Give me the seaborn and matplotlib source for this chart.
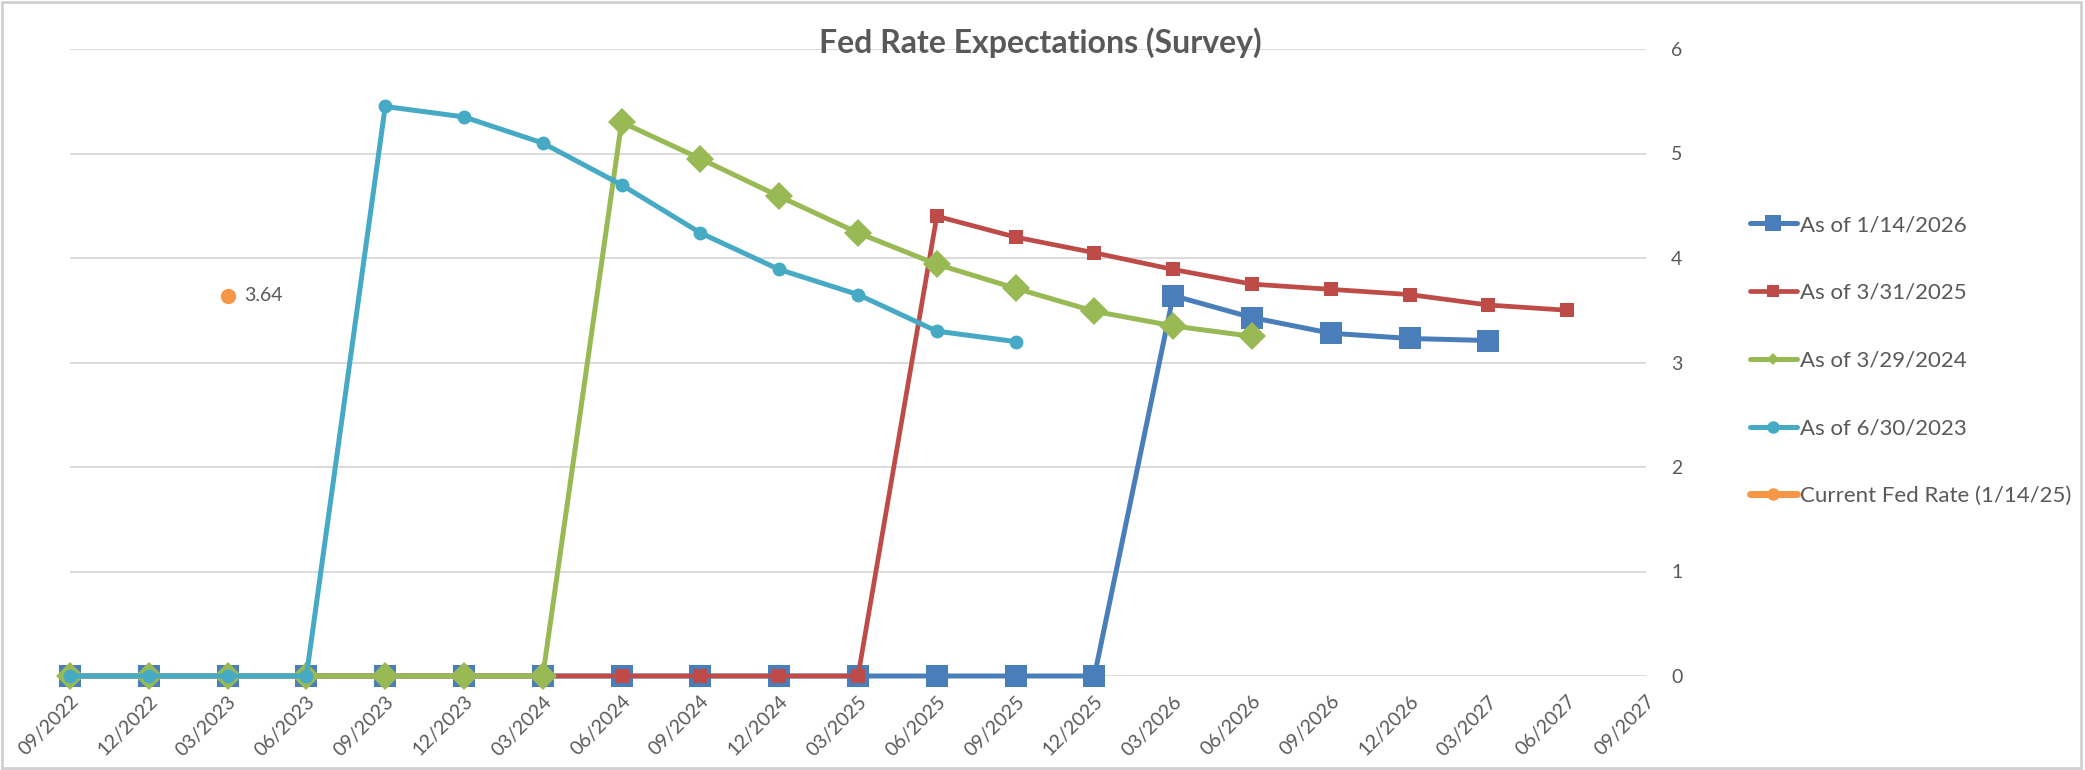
import numpy as np
import pandas as pd
import matplotlib
matplotlib.use("Agg")
import matplotlib.pyplot as plt
import seaborn as sns

sns.set_style("white")
plt.rcParams['font.family'] = ['Lato', 'DejaVu Sans']

# ---- data ----
dates = ["09/2022", "12/2022", "03/2023", "06/2023", "09/2023", "12/2023", "03/2024",
         "06/2024", "09/2024", "12/2024", "03/2025", "06/2025", "09/2025", "12/2025",
         "03/2026", "06/2026", "09/2026", "12/2026", "03/2027", "06/2027", "09/2027"]

as_of_2026 = [0, 0, 0, 0, 0, 0, 0, 0, 0, 0, 0, 0, 0, 0,
              3.64, 3.43, 3.28, 3.23, 3.21]
as_of_2025 = [0, 0, 0, 0, 0, 0, 0, 0, 0, 0, 0,
              4.40, 4.20, 4.05, 3.89, 3.75, 3.70, 3.65, 3.55, 3.50]
as_of_2024 = [0, 0, 0, 0, 0, 0, 0,
              5.30, 4.95, 4.59, 4.24, 3.94, 3.71, 3.49, 3.35, 3.25]
as_of_2023 = [0, 0, 0, 0,
              5.45, 5.35, 5.10, 4.70, 4.24, 3.89, 3.65, 3.30, 3.20]
current_rate_pos = ["03/2023"]
current_rate = [3.64]

labels = ["As of 1/14/2026", "As of 3/31/2025", "As of 3/29/2024",
          "As of 6/30/2023", "Current Fed Rate (1/14/25)"]
colors = ["#4A7EBB", "#BE4B48", "#98B954", "#46AAC5", "#F79646"]
grey = "#595959"

x = np.arange(len(dates))

fig = plt.figure(figsize=(20.85, 7.7), dpi=100)
ax = fig.add_axes([70 / 2085, 1 - 676 / 770, (1646 - 70) / 2085, (676 - 49) / 770])

# series, drawn in Excel's order (later ones on top)
sns.lineplot(x=x[:len(as_of_2026)], y=as_of_2026, ax=ax, color=colors[0], lw=3.6,
             marker="s", markersize=16, markeredgewidth=0, label=labels[0], clip_on=False)
sns.lineplot(x=x[:len(as_of_2025)], y=as_of_2025, ax=ax, color=colors[1], lw=3.4,
             marker="s", markersize=10, markeredgewidth=0, label=labels[1], clip_on=False)
sns.lineplot(x=x[:len(as_of_2024)], y=as_of_2024, ax=ax, color=colors[2], lw=3.6,
             marker="D", markersize=14, markeredgewidth=0, label=labels[2], clip_on=False)
sns.lineplot(x=x[:len(as_of_2023)], y=as_of_2023, ax=ax, color=colors[3], lw=3.6,
             marker="o", markersize=10, markeredgewidth=0, label=labels[3], clip_on=False)
cur_x = [dates.index(d) for d in current_rate_pos]
sns.lineplot(x=cur_x, y=current_rate, ax=ax, color=colors[4], lw=5,
             marker="o", markersize=11, markeredgewidth=0, label=labels[4], clip_on=False)
for xi, v in zip(cur_x, current_rate):
    ax.annotate(f"{v:.2f}", (xi, v), xytext=(12, 0), textcoords="offset points",
                va="center", ha="left", fontsize=14, color=grey)

# axes
ax.set_xlim(0, 20)
ax.set_ylim(0, 6)
ax.set_xticks(x)
ax.set_xticklabels(dates, rotation=45, ha="right", rotation_mode="anchor",
                   fontsize=14, color=grey)
ax.set_yticks(range(0, 7))
ax.yaxis.tick_right()
ax.tick_params(axis="y", length=0, pad=18, labelsize=14, labelcolor=grey)
ax.tick_params(axis="x", length=0, pad=12)
ax.grid(axis="y", color="#D9D9D9", lw=1.3)
ax.set_axisbelow(True)
for s in ax.spines.values():
    s.set_visible(False)
ax.set_xlabel("")
ax.set_ylabel("")

leg = ax.legend(loc="upper left", bbox_to_anchor=(1750 / 2085, 1 - 215 / 770),
                bbox_transform=fig.transFigure, frameon=False, fontsize=16,
                labelcolor=grey, handlelength=2.1, handletextpad=0.15, labelspacing=2.15,
                borderpad=0, borderaxespad=0)
# smaller markers in the legend, like the original
for h, ms in zip(leg.get_lines(), [11, 8, 6, 9, 9]):
    h.set_markersize(ms)

fig.text(1040 / 2085, 1 - 43 / 770, "Fed Rate Expectations (Survey)", ha="center",
         va="center", fontsize=23, fontweight="bold", color=grey)

# chart border
fig.patches.append(plt.Rectangle((0.001, 0.002), 0.997, 0.995, transform=fig.transFigure,
                                 fill=False, edgecolor="#D0D0D0", lw=2))

fig.savefig("out.png", dpi=100)
